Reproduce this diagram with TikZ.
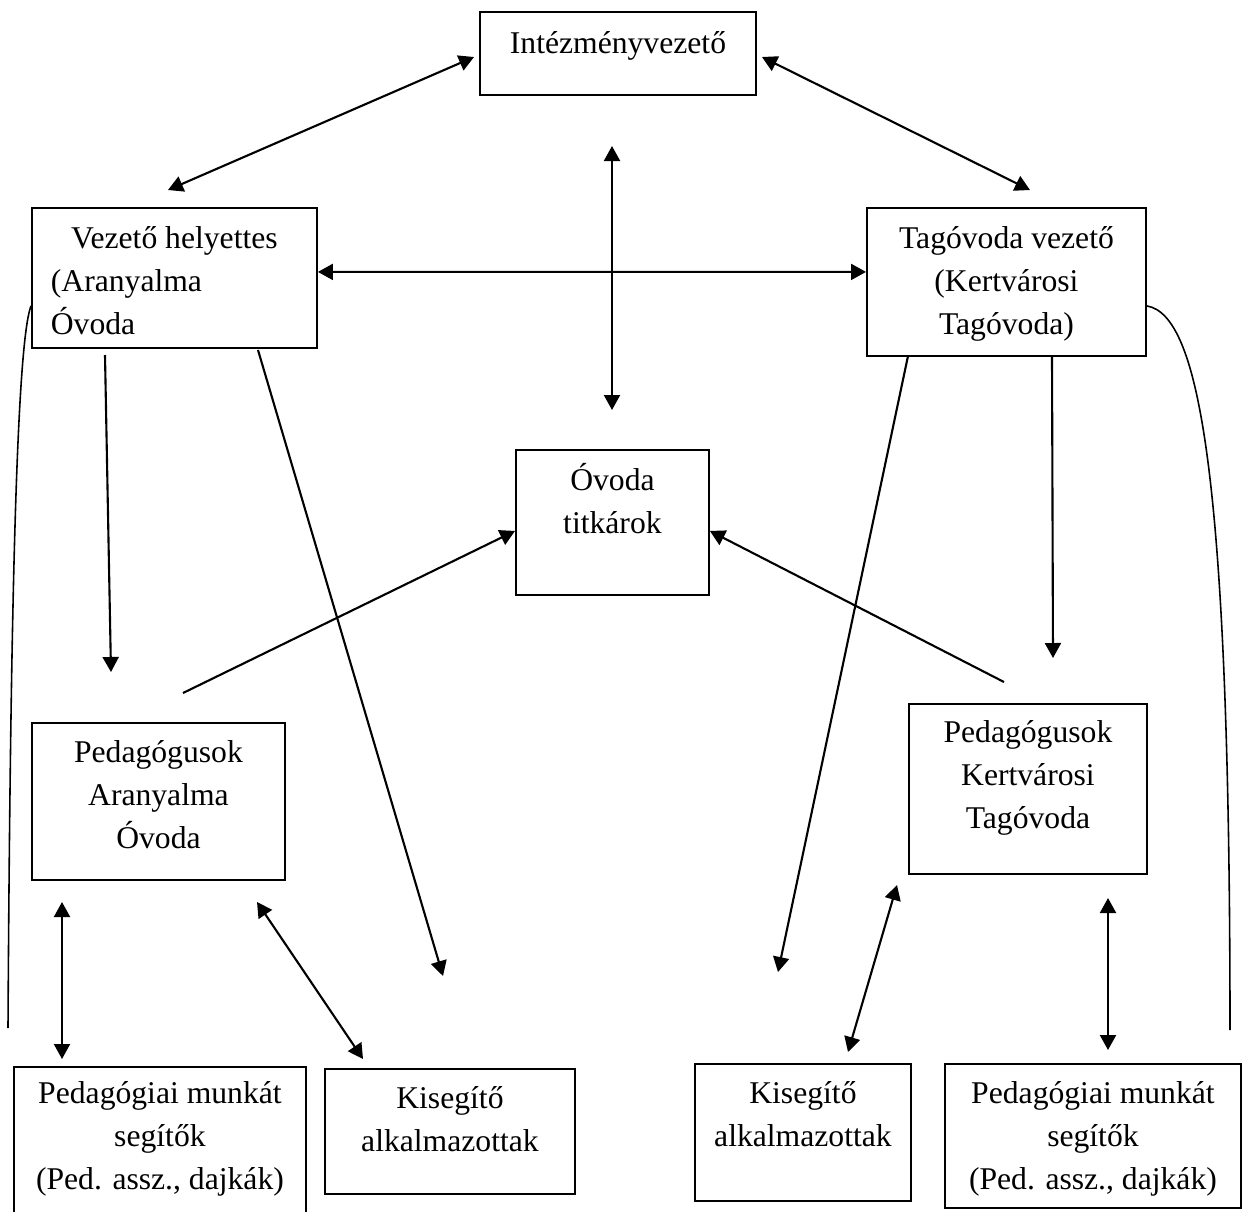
\documentclass[tikz,border=0pt]{standalone}
\usepackage{fontspec}
\setmainfont{Liberation Serif}
\usepackage{tikz}
\usetikzlibrary{arrows.meta,positioning}

\newcommand{\cellbox}[4]{\parbox[c][#2][t]{#1}{\centering\vspace*{#3}\strut #4}}

\begin{document}
\begin{tikzpicture}[x=0.01cm,y=-0.01cm,
  box/.style={draw,line width=0.5pt,inner sep=0pt,anchor=north west,font=\fontsize{9}{12.2}\selectfont},
  arr/.style={line width=0.6pt,-{Triangle[length=0.15cm,width=0.16cm]}},
  dub/.style={line width=0.6pt,{Triangle[length=0.15cm,width=0.16cm]}-{Triangle[length=0.15cm,width=0.16cm]}},
  bow/.style={line width=0.45pt}]

\useasboundingbox (0,0) rectangle (1242,1211);

% boxes
\node[box] (intez) at (479,11) {\cellbox{2.76cm}{0.83cm}{0.12cm}{Intézményvezető}};
\node[box] (vh) at (31,207) {\parbox[c][1.40cm][t]{2.85cm}{\vspace*{0.11cm}{\centering\strut Vezető helyettes\par}\hspace*{0.19cm}(Aranyalma\par\hspace*{0.19cm}Óvoda}};
\node[box] (tag) at (866,207) {\cellbox{2.79cm}{1.48cm}{0.11cm}{Tagóvoda vezető\\(Kertvárosi\\Tagóvoda)}};
\node[box] (titk) at (515,449) {\cellbox{1.93cm}{1.45cm}{0.11cm}{Óvoda\\titkárok}};
\node[box] (pedA) at (31,722) {\cellbox{2.53cm}{1.57cm}{0.10cm}{Pedagógusok\\Aranyalma\\Óvoda}};
\node[box] (pedK) at (908,703) {\cellbox{2.38cm}{1.70cm}{0.09cm}{Pedagógusok\\Kertvárosi\\Tagóvoda}};
\node[box] (segA) at (13,1066) {\cellbox{2.92cm}{1.60cm}{0.07cm}{Pedagógiai munkát\\segítők\\(Ped. assz., dajkák)}};
\node[box] (kisA) at (324,1068) {\cellbox{2.50cm}{1.25cm}{0.10cm}{Kisegítő\\alkalmazottak}};
\node[box] (kisK) at (694,1063) {\cellbox{2.16cm}{1.37cm}{0.10cm}{Kisegítő\\alkalmazottak}};
\node[box] (segK) at (944,1063) {\cellbox{2.96cm}{1.44cm}{0.10cm}{Pedagógiai munkát\\segítők\\(Ped. assz., dajkák)}};

% free ends
\coordinate (vhN) at (168,190);   \coordinate (inW) at (474,57);
\coordinate (inE) at (762,57);    \coordinate (tgN) at (1030,190);
\coordinate (midT) at (612,146);  \coordinate (midB) at (612,410);
\coordinate (vhS1) at (105,355);  \coordinate (paN) at (111,672);
\coordinate (vhS2) at (258,350);  \coordinate (kaN) at (443,976);
\coordinate (paE) at (183,693);   \coordinate (pkN) at (1004,682);
\coordinate (tgS1) at (1052,357); \coordinate (pkT) at (1053,658);
\coordinate (tgS2) at (908,356);  \coordinate (kkN) at (778,972);
\coordinate (saT) at (62,902);    \coordinate (saB) at (62,1059);
\coordinate (kaT) at (257,902);   \coordinate (kaB) at (363,1059);
\coordinate (kkT) at (897,885);   \coordinate (kkB) at (848,1052);
\coordinate (skT) at (1108,898);  \coordinate (skB) at (1108,1050);
\coordinate (vhEnd) at (8,1028);  \coordinate (tgEnd) at (1230,1030);

% top
\draw[dub] (inW) -- (vhN);
\draw[dub] (inE) -- (tgN);
\draw[dub] (midT) -- (midB);
\draw[dub] ([yshift=0.06cm]vh.east) -- ([yshift=0.1cm]tag.west);

% middle
\draw[arr] (vhS1) -- (paN);
\draw[arr] (vhS2) -- (kaN);
\draw[arr] (paE) -- ([yshift=-0.085cm]titk.west);
\draw[arr] (pkN) -- ([yshift=-0.085cm]titk.east);
\draw[arr] (tgS1) -- (pkT);
\draw[arr] (tgS2) -- (kkN);

% bottom
\draw[dub] (saT) -- (saB);
\draw[dub] (kaT) -- (kaB);
\draw[dub] (kkT) -- (kkB);
\draw[dub] (skT) -- (skB);

% side lines
\draw[bow] ([yshift=-0.28cm]vh.west) .. controls (20,335) and (11,500) .. (vhEnd);
\draw[bow] ([yshift=-0.24cm]tag.east) .. controls (1200,315) and (1230,480) .. (tgEnd);

\end{tikzpicture}
\end{document}
